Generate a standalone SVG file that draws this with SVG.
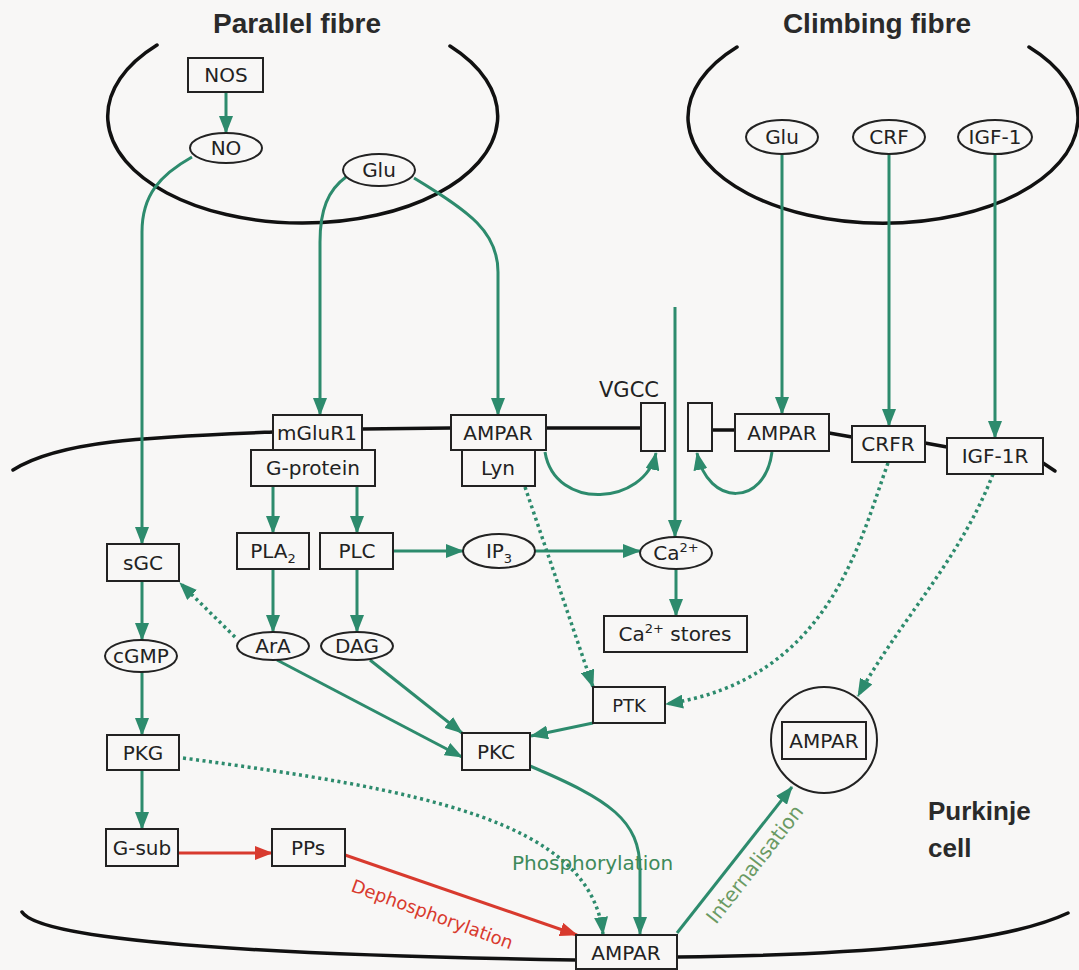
<svg xmlns="http://www.w3.org/2000/svg" width="1079" height="970" viewBox="0 0 1079 970">
<defs>
<style>
.bx{fill:#f8f7f6;stroke:#222;stroke-width:2}
.el{fill:#f8f7f6;stroke:#222;stroke-width:2}
.t{font-family:"DejaVu Sans",sans-serif;font-size:20px;fill:#222;text-anchor:middle}
.ttl{font-family:"Liberation Sans",Arial,sans-serif;font-weight:bold;font-size:28px;fill:#2a2a2a;text-anchor:middle}
.mem{fill:none;stroke:#111;stroke-width:3.5;stroke-linecap:round}
.g{fill:none;stroke:#2d8b6d;stroke-width:3}
.gd{fill:none;stroke:#2d8b6d;stroke-width:3.5;stroke-dasharray:3 3.5}
.r{fill:none;stroke:#d83a2e;stroke-width:3}
</style>
<marker id="ag" markerUnits="userSpaceOnUse" markerWidth="18" markerHeight="14" refX="17" refY="7" orient="auto" viewBox="0 0 18 14"><path d="M0,0 L18,7 L0,14 z" fill="#2d8b6d"/></marker>
<marker id="ar" markerUnits="userSpaceOnUse" markerWidth="18" markerHeight="14" refX="17" refY="7" orient="auto" viewBox="0 0 18 14"><path d="M0,0 L18,7 L0,14 z" fill="#d83a2e"/></marker>
</defs>
<rect width="1079" height="970" fill="#f8f7f6"/>

<g id="membranes">
<path class="mem" d="M 157 45 A 195 107 0 1 0 450 46"/>
<path class="mem" d="M 737 47 A 195 106 0 1 0 1029 47"/>
<path class="mem" d="M 13 470 C 60 440 150 437 273 432"/>
<path class="mem" d="M 362 429 L 451 428"/>
<path class="mem" d="M 546 428 L 641 428"/>
<path class="mem" d="M 712 430 L 735 430"/>
<path class="mem" d="M 829 433 L 852 437"/>
<path class="mem" d="M 925 443 L 947 447"/>
<path class="mem" d="M 1043 463 L 1055 471"/>
<path class="mem" d="M 22 912 C 40 940 250 955 576 960"/>
<path class="mem" d="M 677 957 C 850 955 1000 945 1068 913"/>
</g>

<g id="titles">
<text class="ttl" x="297" y="33">Parallel fibre</text>
<text class="ttl" x="877" y="33">Climbing fibre</text>
<text class="ttl" x="928" y="820" style="text-anchor:start;font-size:26px">Purkinje</text>
<text class="ttl" x="928" y="857" style="text-anchor:start;font-size:26px">cell</text>
</g>

<g id="connectors">
<path class="g" d="M 226 92 L 226 133" marker-end="url(#ag)"/>
<path class="g" d="M 192 157 C 160 175 142 195 142 232 L 142 544" marker-end="url(#ag)"/>
<path class="g" d="M 346 177 C 328 190 320 210 320 242 L 320 415" marker-end="url(#ag)"/>
<path class="g" d="M 414 178 C 470 212 498 232 498 272 L 498 415" marker-end="url(#ag)"/>
<path class="g" d="M 782 154 L 782 414" marker-end="url(#ag)"/>
<path class="g" d="M 889 154 L 889 426" marker-end="url(#ag)"/>
<path class="g" d="M 995 154 L 995 438" marker-end="url(#ag)"/>
<path class="g" d="M 675 307 L 675 537" marker-end="url(#ag)"/>
<path class="g" d="M 545 452 C 555 512 645 505 656 453" marker-end="url(#ag)"/>
<path class="g" d="M 772 452 C 765 507 708 507 697 453" marker-end="url(#ag)"/>
<path class="g" d="M 273 486 L 273 533" marker-end="url(#ag)"/>
<path class="g" d="M 357 486 L 357 533" marker-end="url(#ag)"/>
<path class="g" d="M 393 551 L 463 551" marker-end="url(#ag)"/>
<path class="g" d="M 535 551 L 640 551" marker-end="url(#ag)"/>
<path class="g" d="M 273 569 L 273 632" marker-end="url(#ag)"/>
<path class="g" d="M 357 569 L 357 632" marker-end="url(#ag)"/>
<path class="g" d="M 676 569 L 676 616" marker-end="url(#ag)"/>
<path class="g" d="M 142 581 L 142 640" marker-end="url(#ag)"/>
<path class="g" d="M 142 672 L 142 735" marker-end="url(#ag)"/>
<path class="g" d="M 142 770 L 142 829" marker-end="url(#ag)"/>
<path class="g" d="M 277 660 L 462 757" marker-end="url(#ag)"/>
<path class="g" d="M 370 660 L 462 733" marker-end="url(#ag)"/>
<path class="gd" d="M 235 637 L 180 583" marker-end="url(#ag)"/>
<path class="gd" d="M 525 487 L 593 687" marker-end="url(#ag)"/>
<path class="g" d="M 593 723 L 531 736" marker-end="url(#ag)"/>
<path class="gd" d="M 888 463 C 860 540 830 680 666 704" marker-end="url(#ag)"/>
<path class="gd" d="M 993 474 C 960 560 900 620 858 696" marker-end="url(#ag)"/>
<path class="gd" d="M 183 758 C 420 790 590 820 603 934" marker-end="url(#ag)"/>
<path class="g" d="M 530 766 C 610 800 640 820 640 870 L 640 934" marker-end="url(#ag)"/>
<path class="g" d="M 677 933 L 792 787" marker-end="url(#ag)"/>
<path class="r" d="M 178 853 L 272 853" marker-end="url(#ar)"/>
<path class="r" d="M 345 855 L 577 935" marker-end="url(#ar)"/>
</g>

<g id="labels">
<text x="599" y="397" style="font-family:'DejaVu Sans',sans-serif;font-size:21px;fill:#222">VGCC</text>
<text x="512" y="870" style="font-family:'DejaVu Sans',sans-serif;font-size:20px;fill:#3e8a5a">Phosphorylation</text>
<text x="350" y="891" transform="rotate(20 350 891)" style="font-family:'DejaVu Sans',sans-serif;font-size:18px;fill:#d83a2e">Dephosphorylation</text>
<text x="716" y="925" transform="rotate(-52 716 925)" style="font-family:'DejaVu Sans',sans-serif;font-size:20px;fill:#6a9a63">Internalisation</text>
</g>

<g id="nos"><rect class="bx" x="188" y="58" width="75" height="34"/><text class="t" x="226" y="82">NOS</text></g>
<g id="no"><ellipse class="el" cx="226" cy="148" rx="36" ry="15"/><text class="t" x="226" y="155">NO</text></g>
<g id="glu-pf"><ellipse class="el" cx="379" cy="170" rx="36" ry="16"/><text class="t" x="379" y="177">Glu</text></g>
<g id="glu-cf"><ellipse class="el" cx="782" cy="137" rx="36" ry="17"/><text class="t" x="782" y="144">Glu</text></g>
<g id="crf"><ellipse class="el" cx="889" cy="137" rx="36" ry="17"/><text class="t" x="889" y="144">CRF</text></g>
<g id="igf1"><ellipse class="el" cx="995" cy="137" rx="37" ry="17"/><text class="t" x="995" y="144">IGF-1</text></g>

<g id="mglur1"><rect class="bx" x="273" y="415" width="89" height="35"/><text class="t" x="317" y="440">mGluR1</text></g>
<g id="gprotein"><rect class="bx" x="251" y="450" width="124" height="36"/><text class="t" x="313" y="475">G-protein</text></g>
<g id="ampar1"><rect class="bx" x="451" y="415" width="95" height="35"/><text class="t" x="498" y="440">AMPAR</text></g>
<g id="lyn"><rect class="bx" x="462" y="450" width="73" height="36"/><text class="t" x="498" y="475">Lyn</text></g>
<g id="vgcc1"><rect class="bx" x="641" y="403" width="24" height="48"/></g>
<g id="vgcc2"><rect class="bx" x="688" y="403" width="24" height="48"/></g>
<g id="ampar2"><rect class="bx" x="735" y="414" width="94" height="37"/><text class="t" x="782" y="440">AMPAR</text></g>
<g id="crfr"><rect class="bx" x="852" y="426" width="73" height="36"/><text class="t" x="888" y="451">CRFR</text></g>
<g id="igf1r"><rect class="bx" x="947" y="438" width="96" height="36"/><text class="t" x="995" y="463">IGF-1R</text></g>

<g id="sgc"><rect class="bx" x="107" y="544" width="72" height="37"/><text class="t" x="143" y="570">sGC</text></g>
<g id="pla2"><rect class="bx" x="237" y="533" width="72" height="36"/><text class="t" x="273" y="558">PLA<tspan font-size="13" dy="5">2</tspan></text></g>
<g id="plc"><rect class="bx" x="320" y="533" width="73" height="36"/><text class="t" x="357" y="558">PLC</text></g>
<g id="ip3"><ellipse class="el" cx="499" cy="551" rx="36" ry="17"/><text class="t" x="499" y="558">IP<tspan font-size="13" dy="5">3</tspan></text></g>
<g id="ca"><ellipse class="el" cx="676" cy="553" rx="36" ry="16"/><text class="t" x="676" y="560">Ca<tspan font-size="13" dy="-8">2+</tspan></text></g>
<g id="castores"><rect class="bx" x="604" y="616" width="143" height="36"/><text class="t" x="675" y="641">Ca<tspan font-size="13" dy="-8">2+</tspan><tspan dy="8"> stores</tspan></text></g>
<g id="ara"><ellipse class="el" cx="273" cy="646" rx="36" ry="14"/><text class="t" x="273" y="653">ArA</text></g>
<g id="dag"><ellipse class="el" cx="357" cy="646" rx="36" ry="14"/><text class="t" x="357" y="653">DAG</text></g>
<g id="cgmp"><ellipse class="el" cx="141" cy="656" rx="36" ry="16"/><text class="t" x="141" y="663">cGMP</text></g>
<g id="pkg"><rect class="bx" x="107" y="735" width="72" height="35"/><text class="t" x="143" y="760">PKG</text></g>
<g id="pkc"><rect class="bx" x="462" y="733" width="68" height="37"/><text class="t" x="496" y="759">PKC</text></g>
<g id="ptk"><rect class="bx" x="593" y="687" width="72" height="36"/><text class="t" x="629" y="712" style="font-size:18px">PTK</text></g>
<g id="ampar-int"><circle class="el" cx="824" cy="740" r="53"/><rect class="bx" x="782" y="722" width="84" height="37"/><text class="t" x="824" y="748">AMPAR</text></g>
<g id="gsub"><rect class="bx" x="106" y="829" width="72" height="37"/><text class="t" x="142" y="855">G-sub</text></g>
<g id="pps"><rect class="bx" x="272" y="829" width="73" height="37"/><text class="t" x="308" y="855">PPs</text></g>
<g id="ampar3"><rect class="bx" x="576" y="935" width="101" height="34"/><text class="t" x="626" y="960">AMPAR</text></g>
</svg>
